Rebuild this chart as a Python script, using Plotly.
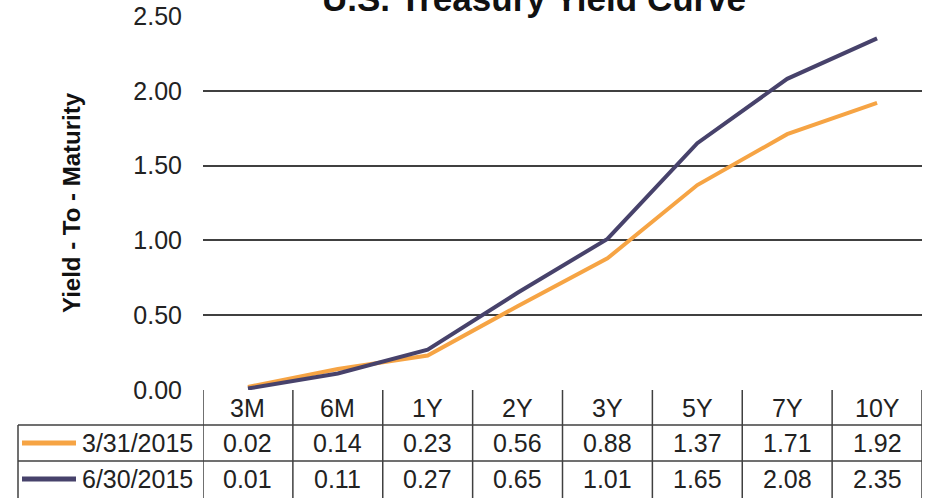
import plotly.graph_objects as go

categories = ["3M", "6M", "1Y", "2Y", "3Y", "5Y", "7Y", "10Y"]
series_names = ["3/31/2015", "6/30/2015"]
yields_mar = [0.02, 0.14, 0.23, 0.56, 0.88, 1.37, 1.71, 1.92]
yields_jun = [0.01, 0.11, 0.27, 0.65, 1.01, 1.65, 2.08, 2.35]
colors = ["#F6A444", "#47426B"]
y_ticks = [0, 0.5, 1.0, 1.5, 2.0, 2.5]

W, H = 925, 498
ML, MR, MT, MB = 203, 3, 16, 108
PW = W - ML - MR
PH = H - MT - MB

def py(pix):  # pixel y -> paper y
    return (H - MB - pix) / PH

def px(pix):  # pixel x -> paper x
    return (pix - ML) / PW

FONT = "Liberation Sans, Arial, sans-serif"
LINE = "#404040"
FS = 25

fig = go.Figure()
series = [yields_mar, yields_jun]
for name, vals, col in zip(series_names, series, colors):
    fig.add_trace(go.Scatter(x=categories, y=vals, mode="lines", name=name,
                             line=dict(color=col, width=4), showlegend=False))

shapes = []
annotations = []
n = len(categories)
row_lines = [py(425), py(461)]
bottom = py(505)
row_centers = [py(443), py(479)]
header_center = py(408)

for i in range(n + 1):
    shapes.append(dict(type="line", xref="x", yref="paper", x0=i - 0.5, x1=i - 0.5,
                       y0=bottom, y1=0, line=dict(color=LINE, width=1.5)))
for yl in row_lines:
    shapes.append(dict(type="line", xref="paper", yref="paper", x0=px(18), x1=1,
                       y0=yl, y1=yl, line=dict(color=LINE, width=1.5)))
shapes.append(dict(type="line", xref="paper", yref="paper", x0=px(18), x1=px(18),
                   y0=bottom, y1=row_lines[0], line=dict(color=LINE, width=1.5)))

for c in categories:
    annotations.append(dict(x=c, xref="x", y=header_center, yref="paper", text=c,
                            xanchor="center", yanchor="middle", showarrow=False,
                            font=dict(size=FS, color="#222", family=FONT)))
for r, (name, vals, col) in enumerate(zip(series_names, series, colors)):
    for c, v in zip(categories, vals):
        annotations.append(dict(x=c, xref="x", y=row_centers[r], yref="paper",
                                text=f"{v:.2f}", showarrow=False,
                                xanchor="center", yanchor="middle",
                                font=dict(size=FS, color="#222", family=FONT)))
    annotations.append(dict(x=px(195), xref="paper", y=row_centers[r], yref="paper",
                            text=name, showarrow=False, xanchor="right", yanchor="middle",
                            font=dict(size=FS, color="#222", family=FONT)))
    shapes.append(dict(type="line", xref="paper", yref="paper", x0=px(22), x1=px(76),
                       y0=row_centers[r], y1=row_centers[r],
                       line=dict(color=col, width=5)))

annotations.append(dict(x=px(534), xref="paper", y=py(20), yref="paper", yanchor="bottom",
                        xanchor="center",
                        text="<b>U.S. Treasury Yield Curve</b>", showarrow=False,
                        font=dict(size=35, color="#111", family=FONT)))

fig.update_layout(
    width=W, height=H,
    margin=dict(l=ML, r=MR, t=MT, b=MB),
    paper_bgcolor="white", plot_bgcolor="white",
    xaxis=dict(type="category", range=[-0.5, n - 0.5], showticklabels=False,
               showgrid=False, zeroline=False, showline=False),
    yaxis=dict(range=[0, 2.5], tickvals=y_ticks, tickformat=".2f",
               showgrid=True, gridcolor=LINE, gridwidth=1.5, zeroline=False,
               showline=False, ticks="", ticklabelstandoff=20,
               tickfont=dict(size=FS, color="#222", family=FONT),
               title=dict(text="<b>Yield - To - Maturity</b>", standoff=45,
                          font=dict(size=24, color="#111", family=FONT))),
    shapes=shapes, annotations=annotations,
)

fig.write_html("out.html")
